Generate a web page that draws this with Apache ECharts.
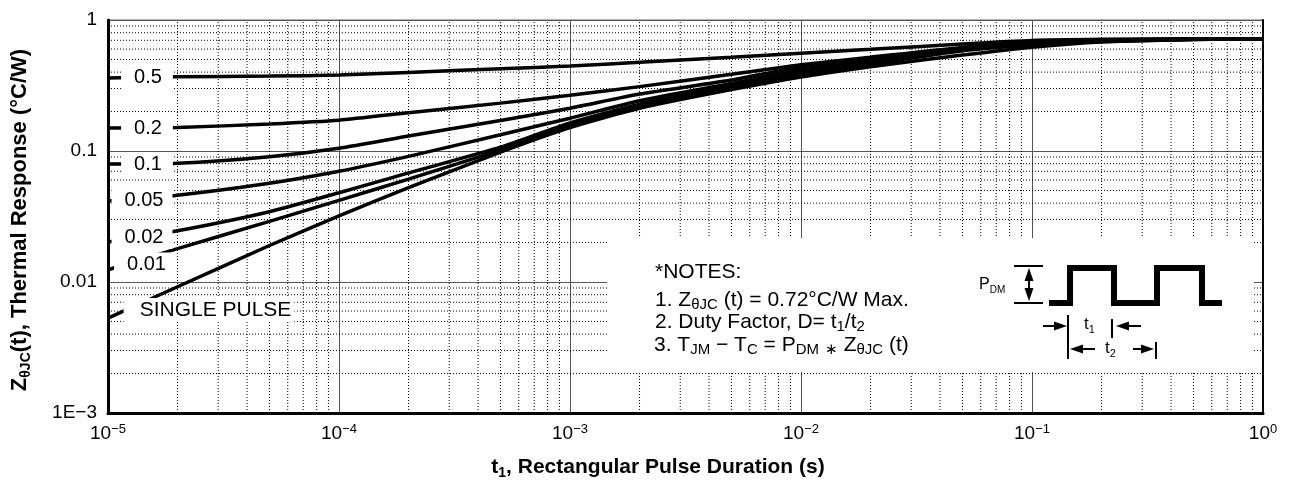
<!DOCTYPE html>
<html>
<head>
<meta charset="utf-8">
<title>Thermal Response</title>
<script src="https://cdn.jsdelivr.net/npm/echarts@6.0.0/dist/echarts.min.js"></script>
<style>
  html, body { margin: 0; padding: 0; background: #fff; }
  #chart { width: 1299px; height: 483px; }
</style>
</head>
<body>
<div id="chart"></div>
<script>
// t1, rectangular pulse duration (s)
const pulseTimes = [1e-5, 2e-5, 5e-5, 1e-4, 2e-4, 5e-4, 1e-3, 2e-3, 5e-3, 1e-2, 2e-2, 5e-2, 0.1, 0.2, 0.5, 1];

// ZθJC(t) (°C/W) per duty factor
const duty05 = [0.36, 0.369, 0.373, 0.38, 0.398, 0.425, 0.445, 0.475, 0.519, 0.557, 0.597, 0.656, 0.698, 0.712, 0.72, 0.72];
const duty02 = [0.15, 0.151, 0.161, 0.172, 0.196, 0.232, 0.266, 0.31, 0.385, 0.455, 0.52, 0.618, 0.667, 0.70, 0.715, 0.72];
const duty01 = [0.0796, 0.0805, 0.0905, 0.105, 0.130, 0.171, 0.212, 0.272, 0.348, 0.438, 0.505, 0.611, 0.662, 0.695, 0.715, 0.72];
const duty005 = [0.0416, 0.046, 0.0567, 0.070, 0.091, 0.133, 0.178, 0.242, 0.328, 0.415, 0.49, 0.604, 0.656, 0.69, 0.712, 0.72];
const duty002 = [0.0202, 0.0246, 0.0344, 0.048, 0.068, 0.107, 0.164, 0.228, 0.315, 0.401, 0.475, 0.593, 0.65, 0.688, 0.712, 0.72];
const duty001 = [0.0124, 0.018, 0.029, 0.042, 0.061, 0.102, 0.158, 0.222, 0.307, 0.387, 0.46, 0.583, 0.645, 0.685, 0.71, 0.72];
const singlePulse = [0.0053, 0.0092, 0.019, 0.032, 0.0525, 0.098, 0.151, 0.212, 0.294, 0.367, 0.44, 0.54, 0.62, 0.68, 0.71, 0.72];

const curveNames = ['0.5', '0.2', '0.1', '0.05', '0.02', '0.01', 'SINGLE PULSE'];
const xTickExps = ['−5', '−4', '−3', '−2', '−1', '0'];
const yTickLabels = ['1E−3', '0.01', '0.1', '1'];
const minorSteps = [2, 3, 4, 5, 6, 7, 8, 9];

const FONT = '"Liberation Sans", Arial, Helvetica, sans-serif';

// dotted minor grid (2..9 of each decade)
function minorV() {
  const pts = [];
  for (let e = -5; e < 0; e++) {
    minorSteps.forEach(k => {
      const x = k * Math.pow(10, e);
      pts.push([x, 1e-3], [x, 1], [x, null]);
    });
  }
  return pts;
}
function minorH() {
  const pts = [];
  for (let e = -3; e < 0; e++) {
    minorSteps.forEach(k => {
      const y = k * Math.pow(10, e);
      pts.push([1e-5, y], [1, y], [null, y]);
    });
  }
  return pts;
}

const gridStyle = {color: '#000', width: 1, type: [1, 2]};

const curves = [duty05, duty02, duty01, duty005, duty002, duty001, singlePulse];
const curveSeries = curves.map((arr, i) => ({
  name: curveNames[i],
  type: 'line',
  data: pulseTimes.map((t, j) => [t, arr[j]]),
  symbol: 'none',
  smooth: 0.2,
  lineStyle: {color: '#000', width: 3.5},
  z: 3,
  silent: true
}));

// white boxes that break the curves at their left-hand labels
const labelBox = (text, x, y, pad, size) => ({
  type: 'text', x: x, y: y, z: 100,
  style: {
    text: text, font: (size || 20) + 'px ' + FONT, fill: '#000',
    align: 'center', verticalAlign: 'middle', lineHeight: 20,
    backgroundColor: '#fff', padding: pad
  }
});

const txt = (text, x, y, extra) => ({
  type: 'text', x: x, y: y, z: 100,
  style: Object.assign({
    text: text, fill: '#000', fontFamily: FONT, fontSize: 21,
    align: 'left', verticalAlign: 'middle'
  }, extra || {})
});

const noteRich = {
  n: {fontSize: 21, fontFamily: FONT, lineHeight: 24},
  s: {fontSize: 15, fontFamily: FONT, lineHeight: 14, verticalAlign: 'bottom'}
};

const seg = (x1, y1, x2, y2, w) => ({
  type: 'line', z: 100,
  shape: {x1: x1, y1: y1, x2: x2, y2: y2},
  style: {stroke: '#000', lineWidth: w || 2}
});
// arrow head with its tip at (tx, ty), pointing along (dx, dy)
const head = (tx, ty, dx, dy) => ({
  type: 'polygon', z: 100,
  shape: {points: [[tx, ty], [tx - dx * 13 - dy * 4.5, ty - dy * 13 - dx * 4.5], [tx - dx * 13 + dy * 4.5, ty - dy * 13 + dx * 4.5]]},
  style: {fill: '#000'}
});

const graphics = [
  // notes panel covers the grid
  {type: 'rect', z: 90, shape: {x: 607, y: 238, width: 647, height: 134}, style: {fill: '#fff'}},

  labelBox('0.5', 147, 77, [2, 11, 2, 13]),
  labelBox('0.2', 147, 128, [2, 11, 2, 13]),
  labelBox('0.1', 147, 164, [2, 11, 2, 13]),
  labelBox('0.05', 142, 200, [2, 9, 2, 13]),
  labelBox('0.02', 142, 237, [2, 9, 2, 13]),
  labelBox('0.01', 143, 264, [1, 6, 2, 13]),
  labelBox('SINGLE PULSE', 209, 310, [2, 3, 2, 16], 21),

  txt('*NOTES:', 655, 272),
  txt('{n|1. Z}{s|θJC}{n| (t) = 0.72°C/W Max.}', 655, 300, {rich: noteRich}),
  txt('{n|2. Duty Factor, D= t}{s|1}{n|/t}{s|2}', 655, 322, {rich: noteRich}),
  txt('{n|3. T}{s|JM}{n| − T}{s|C}{n| = P}{s|DM}{n| }{s|∗}{n| Z}{s|θJC}{n| (t)}', 654, 345, {rich: noteRich}),

  // pulse train sketch
  {type: 'polyline', z: 100,
   shape: {points: [[1049, 303], [1070, 303], [1070, 268], [1114, 268], [1114, 303], [1157, 303], [1157, 268], [1202, 268], [1202, 303], [1222, 303]]},
   style: {stroke: '#000', lineWidth: 6, fill: null, lineJoin: 'miter'}},
  txt('{p|P}{q|DM}', 979, 285, {rich: {
    p: {fontSize: 16, fontFamily: FONT, lineHeight: 20},
    q: {fontSize: 10, fontFamily: FONT, lineHeight: 12, verticalAlign: 'bottom'}
  }}),
  seg(1014, 266, 1043, 266, 2),
  seg(1014, 303, 1043, 303, 2),
  seg(1029, 276, 1029, 294, 2),
  head(1029, 268, 0, -1),
  head(1029, 301, 0, 1),

  seg(1068, 315, 1068, 359, 2),
  seg(1112, 319, 1112, 338, 2),
  seg(1156, 342, 1156, 359, 2),
  seg(1043, 326, 1058, 326, 2), head(1067, 326, 1, 0),
  seg(1126, 326, 1141, 326, 2), head(1116, 326, -1, 0),
  seg(1080, 349, 1095, 349, 2), head(1070, 349, -1, 0),
  seg(1133, 349, 1146, 349, 2), head(1154, 349, 1, 0),
  txt('{t|t}{u|1}', 1084, 324, {rich: {
    t: {fontSize: 17, fontFamily: FONT, lineHeight: 22},
    u: {fontSize: 11, fontFamily: FONT, lineHeight: 10, verticalAlign: 'bottom'}
  }}),
  txt('{t|t}{u|2}', 1105, 348, {rich: {
    t: {fontSize: 17, fontFamily: FONT, lineHeight: 22},
    u: {fontSize: 11, fontFamily: FONT, lineHeight: 10, verticalAlign: 'bottom'}
  }}),

  // axis titles
  {type: 'text', x: 20, y: 220, rotation: Math.PI / 2, z: 100,
   style: {text: '{b|Z}{c|θJC}{b|(t), Thermal Response (°C/W)}', align: 'center', verticalAlign: 'middle',
     rich: {
       b: {fontSize: 22, fontWeight: 'bold', fontFamily: FONT, lineHeight: 26},
       c: {fontSize: 14, fontWeight: 'bold', fontFamily: FONT, lineHeight: 14, verticalAlign: 'bottom'}
     }}},
  {type: 'text', x: 658, y: 467, z: 100,
   style: {text: '{b|t}{c|1}{b|, Rectangular Pulse Duration (s)}', align: 'center', verticalAlign: 'middle',
     rich: {
       b: {fontSize: 21, fontWeight: 'bold', fontFamily: FONT, lineHeight: 26},
       c: {fontSize: 14, fontWeight: 'bold', fontFamily: FONT, lineHeight: 14, verticalAlign: 'bottom'}
     }}}
];

const chart = echarts.init(document.getElementById('chart'), null, {renderer: 'canvas'});

const option = {
  animation: false,
  backgroundColor: '#fff',
  grid: {left: 108, right: 36, top: 20, bottom: 70, show: true, borderColor: '#666', borderWidth: 1},
  xAxis: {
    type: 'log', logBase: 10, min: 1e-5, max: 1,
    axisLine: {show: true, lineStyle: {color: '#000', width: 3}},
    axisTick: {show: false},
    splitLine: {show: true, lineStyle: {color: '#555', width: 1}},
    axisLabel: {
      margin: 10,
      formatter: v => '{n|10}{s|' + xTickExps[Math.round(Math.log10(v)) + 5] + '}',
      rich: {
        n: {fontSize: 19, fontFamily: FONT, color: '#000', lineHeight: 22},
        s: {fontSize: 13, fontFamily: FONT, color: '#000', lineHeight: 12, verticalAlign: 'top'}
      }
    }
  },
  yAxis: [{
    type: 'log', logBase: 10, min: 1e-3, max: 1,
    axisLine: {show: true, lineStyle: {color: '#000', width: 3}},
    axisTick: {show: false},
    splitLine: {show: true, lineStyle: {color: '#555', width: 1}},
    axisLabel: {
      margin: 11, fontSize: 19, fontFamily: FONT, color: '#000',
      formatter: v => yTickLabels[Math.round(Math.log10(v)) + 3]
    }
  }, {
    type: 'log', logBase: 10, min: 1e-3, max: 1, position: 'right',
    axisLine: {show: true, lineStyle: {color: '#000', width: 2}},
    axisTick: {show: false}, axisLabel: {show: false}, splitLine: {show: false}
  }],
  series: [
    {type: 'line', data: minorV(), symbol: 'none', lineStyle: gridStyle, z: 1, silent: true, connectNulls: false},
    {type: 'line', data: minorH(), symbol: 'none', lineStyle: gridStyle, z: 1, silent: true, connectNulls: false}
  ].concat(curveSeries),
  graphic: graphics
};

chart.setOption(option);
</script>
</body>
</html>
